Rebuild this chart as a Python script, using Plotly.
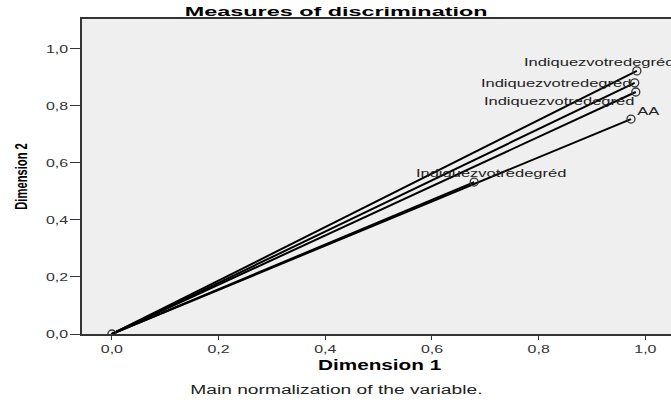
import plotly.graph_objects as go

# Discrimination measures per variable (dimension 1, dimension 2)
variables = ["Indiquezvotredegréd", "Indiquezvotredegréd", "Indiquezvotredegréd", "AA", "Indiquezvotredegréd"]
dim1 = [0.984, 0.980, 0.982, 0.973, 0.679]
dim2 = [0.923, 0.881, 0.849, 0.754, 0.533]
tick_vals = [0, 0.2, 0.4, 0.6, 0.8, 1.0]

# label offsets in pixels relative to each point
label_dx = [-38, -79, -77, 18, 17]
label_dy = [9, 0, -9, 8, 9]

FONT = "Liberation Sans, Arial, sans-serif"
W, H = 671, 402
L, R, T, B = 82, 0, 19, 68


def px_x(p):
    return (p - L) / (W - L - R)


def px_y(p):
    return (H - B - p) / (H - B - T)


fig = go.Figure()

for x, y in zip(dim1, dim2):
    fig.add_trace(go.Scatter(
        x=[0, x], y=[0, y], mode="lines",
        line=dict(color="black", width=2), hoverinfo="skip", showlegend=False))

fig.add_trace(go.Scatter(
    x=[0] + dim1, y=[0] + dim2, mode="markers",
    marker=dict(symbol="circle-open", size=8, color="#333333", line=dict(width=1.3)),
    showlegend=False))

for name, x, y, dx, dy in zip(variables, dim1, dim2, label_dx, label_dy):
    fig.add_annotation(x=x, y=y, text=name, showarrow=False,
                       xshift=dx, yshift=dy,
                       font=dict(family=FONT, size=11, color="#222222"))

fig.add_annotation(xref="paper", yref="paper", x=px_x(336), y=px_y(11),
                   text="<b>Measures of discrimination</b>", showarrow=False,
                   yanchor="middle",
                   font=dict(family=FONT, size=13, color="black"))
fig.add_annotation(xref="paper", yref="paper", x=px_x(379), y=px_y(365),
                   text="<b>Dimension 1</b>", showarrow=False,
                   yanchor="middle",
                   font=dict(family=FONT, size=14, color="black"))
fig.add_annotation(xref="paper", yref="paper", x=px_x(336), y=px_y(390),
                   text="Main normalization of the variable.", showarrow=False,
                   yanchor="middle",
                   font=dict(family=FONT, size=12, color="#222222"))
fig.add_annotation(xref="paper", yref="paper", x=px_x(21), y=px_y(177),
                   text="<b>Dimension 2</b>", showarrow=False, textangle=-90,
                   xanchor="center", yanchor="middle",
                   font=dict(family=FONT, size=16, color="black"))

fig.update_layout(
    width=W, height=H,
    margin=dict(l=L, r=R, t=T, b=B),
    paper_bgcolor="white", plot_bgcolor="#efefef",
    separators=", ",
    font=dict(family=FONT, size=11, color="#333333"),
    xaxis=dict(range=[-0.056, 1.048], tickvals=tick_vals,
               tickformat=".1f", showgrid=False, zeroline=False,
               showline=True, linecolor="#333333", linewidth=1.5, mirror=True,
               ticks="outside", ticklen=4, tickcolor="#333333"),
    yaxis=dict(range=[0, 1.105], tickvals=tick_vals,
               tickformat=".1f", showgrid=False, zeroline=False,
               showline=True, linecolor="#333333", linewidth=1.5,
               ticks="outside", ticklen=10, tickcolor="#333333"),
)

# horizontally stretched lettering (condensed for the vertical axis title)
stretch_js = """
var gd = document.getElementsByClassName('plotly-graph-div')[0];
var widths = {'Measures of discrimination': 1.8, 'Dimension 1': 1.48,
              'Main normalization of the variable.': 1.6, 'Dimension 2': 0.7,
              'AA': 1.5, 'Indiquezvotredegréd': 1.5};
function scaleText(t, s) {
  var cur = t.getAttribute('transform') || '';
  if (t.getAttribute('data-done') === cur) { return; }
  var ax = parseFloat(t.getAttribute('x')) || 0;
  var tr = cur + ' translate(' + ax + ',0) scale(' + s + ',1) translate(' + (-ax) + ',0)';
  t.setAttribute('transform', tr);
  t.setAttribute('data-done', tr);
}
function stretch() {
  gd.querySelectorAll('.annotation-text').forEach(function (t) {
    var s = widths[t.textContent];
    if (s !== undefined) { scaleText(t, s); }
  });
  gd.querySelectorAll('.xtick text, .ytick text').forEach(function (t) {
    scaleText(t, 1.45);
  });
}
stretch();
gd.on('plotly_afterplot', stretch);
"""

fig.write_html("out.html", post_script=stretch_js)
